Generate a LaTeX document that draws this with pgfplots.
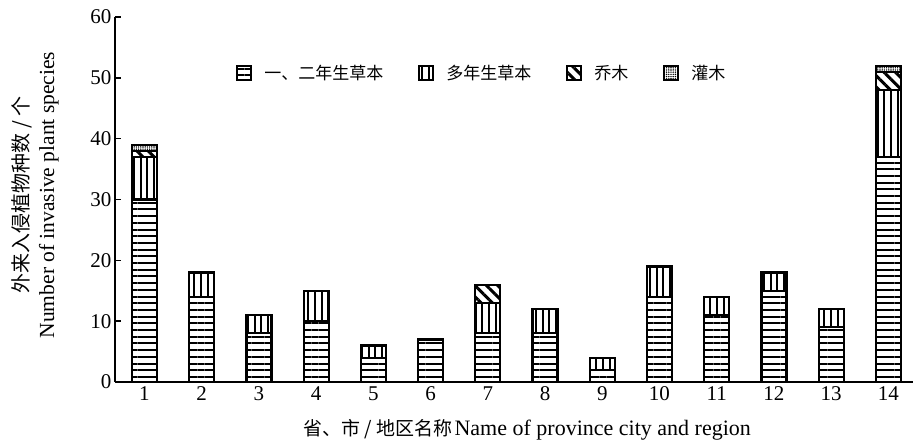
\documentclass[border=0pt]{standalone}
\usepackage{fontspec}
\setmainfont{Liberation Serif}
\newfontfamily\cjk{Noto Sans CJK SC}
\usepackage{pgfplots}
\usepackage{pgfplotstable}
\pgfplotsset{compat=1.18}
\usetikzlibrary{patterns,patterns.meta}

\pgfplotstableread{
x a p t s
1 30 7 1 1
2 14 4 0 0
3 8 3 0 0
4 10 5 0 0
5 4 2 0 0
6 7 0 0 0
7 8 5 3 0
8 8 4 0 0
9 2 2 0 0
10 14 5 0 0
11 11 3 0 0
12 15 3 0 0
13 9 3 0 0
14 37 11 3 1
}\datatable

\begin{document}
\begin{tikzpicture}
\useasboundingbox (-115pt,-62pt) rectangle (799pt,382pt);
\begin{axis}[
  at={(0,0)}, anchor=south west,
  scale only axis,
  width=798pt, height=365pt,
  xmin=0.485, xmax=14.43,
  ymin=0, ymax=60,
  ybar stacked,
  bar width=25pt,
  axis x line*=bottom,
  axis y line*=left,
  axis line style={line width=1.5pt},
  xtick={1,...,14},
  major x tick style={draw=none},
  extra x ticks={1.5,2.5,...,13.5},
  extra x tick labels={},
  extra x tick style={major tick length=6pt, tick align=inside, tick style={line width=1.5pt, black}},
  ytick={0,10,...,60},
  tick align=inside,
  major tick length=6pt,
  y tick style={line width=1.5pt, black},
  /pgf/number format/assume math mode=true,
  ticklabel style={font=\fontsize{21}{21}\selectfont},
  xticklabel style={yshift=-1pt},
  legend style={at={(rel axis cs:0.148,0.847)}, anchor=west, draw=none, fill=none,
    font=\cjk\fontsize{17}{17}\selectfont,
    /tikz/every odd column/.append style={column sep=10pt},
    /tikz/every even column/.append style={column sep=33pt}},
  legend columns=4,
  legend cell align=left,
  legend image code/.code={\draw[#1, line width=2pt] (0pt,-7pt) rectangle (14pt,7pt);},
]
\addplot[draw=black, line width=2.2pt, pattern={Lines[angle=0,distance=6.7pt,line width=2pt]}] table[x=x,y=a] {\datatable};
\addplot[draw=black, line width=2.2pt, pattern={Lines[angle=90,distance=6.7pt,line width=2pt]}] table[x=x,y=p] {\datatable};
\addplot[draw=black, line width=2.2pt, pattern={Lines[angle=-45,distance=8pt,line width=3pt]}] table[x=x,y=t] {\datatable};
\addplot[draw=black, line width=2.2pt, pattern={Dots[distance=2.2pt,radius=0.8pt]}] table[x=x,y=s] {\datatable};
\legend{一、二年生草本, 多年生草本, 乔木, 灌木}
\end{axis}
\node[rotate=90, align=center, inner sep=0pt] at (-80pt,187pt)
  {{\cjk\fontsize{20}{20}\selectfont 外来入侵植物种数 / 个}\\[6pt]{\fontsize{21.5}{21.5}\selectfont Number of invasive plant species}};
\node[inner sep=0pt] at (412pt,-48pt)
  {{\cjk\fontsize{19}{19}\selectfont 省、市 / 地区名称}\ {\fontsize{22}{22}\selectfont Name of province city and region}};
\end{tikzpicture}
\end{document}
